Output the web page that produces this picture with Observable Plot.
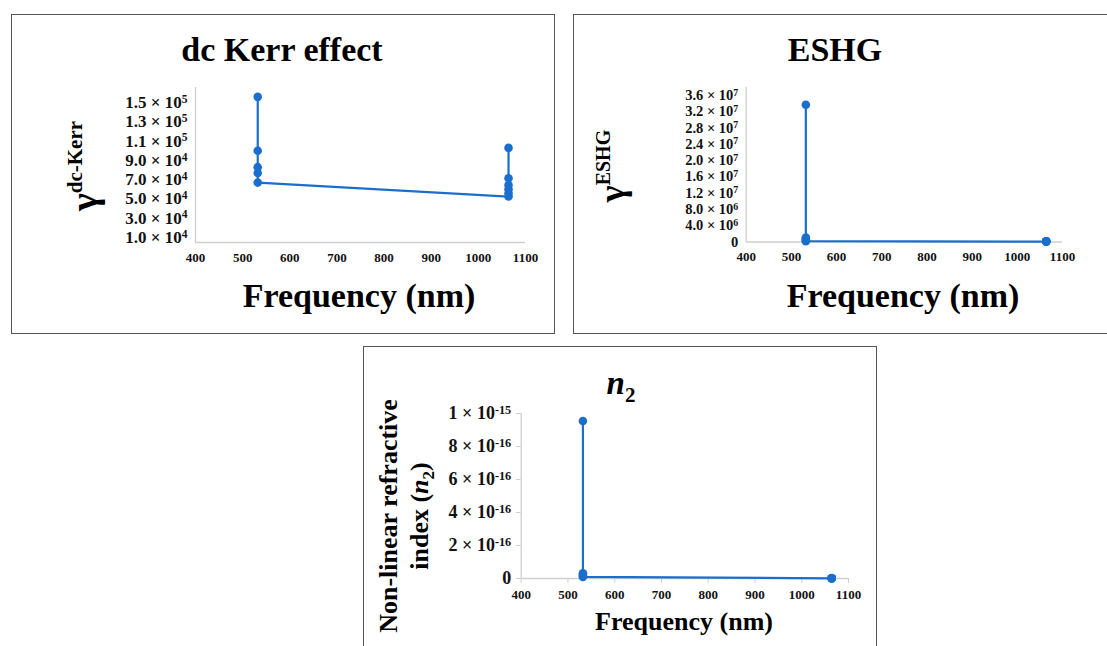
<!DOCTYPE html>
<html>
<head>
<meta charset="utf-8">
<script src="https://cdn.jsdelivr.net/npm/d3@7"></script>
<script src="https://cdn.jsdelivr.net/npm/@observablehq/plot@0.6"></script>
<style>
  html, body { margin: 0; padding: 0; background: #fff; }
  #root { position: relative; width: 1107px; height: 646px; overflow: hidden; font-family: "Liberation Serif", "DejaVu Serif", serif; color: #000; }
  .panel { position: absolute; border: 1.5px solid #555; box-sizing: border-box; }
  .abs { position: absolute; white-space: nowrap; font-weight: bold; transform: translate(-50%, -50%); line-height: 1; }
  .rot { transform: translate(-50%, -50%) rotate(-90deg); }
  .plot { position: absolute; }
</style>
</head>
<body>
<div id="root"></div>
<script>
// ---------- data ----------
const xTicks = [400, 500, 600, 700, 800, 900, 1000, 1100];

const kerrX = [532, 532, 532, 532, 532, 1064, 1064, 1064, 1064, 1064, 1064];
const kerrY = [1.56e5, 1.0e5, 8.3e4, 7.7e4, 6.7e4, 5.25e4, 5.6e4, 6.0e4, 6.45e4, 7.15e4, 1.03e5];
const kerrTicks = [1e4, 3e4, 5e4, 7e4, 9e4, 1.1e5, 1.3e5, 1.5e5];
const kerrTickLabels = ["1.0 × 10^4", "3.0 × 10^4", "5.0 × 10^4", "7.0 × 10^4", "9.0 × 10^4", "1.1 × 10^5", "1.3 × 10^5", "1.5 × 10^5"];

const eshgX = [532, 532, 532, 532, 532, 1064, 1064, 1064, 1064, 1064, 1064];
const eshgY = [3.37e7, 1.1e6, 7.0e5, 4.0e5, 2.0e5, 1.0e5, 1.2e5, 1.4e5, 1.6e5, 1.8e5, 2.0e5];
const eshgTicks = [0, 4e6, 8e6, 1.2e7, 1.6e7, 2.0e7, 2.4e7, 2.8e7, 3.2e7, 3.6e7];
const eshgTickLabels = ["0", "4.0 × 10^6", "8.0 × 10^6", "1.2 × 10^7", "1.6 × 10^7", "2.0 × 10^7", "2.4 × 10^7", "2.8 × 10^7", "3.2 × 10^7", "3.6 × 10^7"];

const n2X = [532, 532, 532, 532, 532, 1064, 1064, 1064, 1064, 1064, 1064];
const n2Y = [9.55e-16, 3.2e-17, 2.2e-17, 1.5e-17, 1.0e-17, 1.0e-18, 1.2e-18, 1.4e-18, 1.6e-18, 1.8e-18, 2.0e-18];
const n2Ticks = [0, 2e-16, 4e-16, 6e-16, 8e-16, 1e-15];
const n2TickLabels = ["0", "2 × 10^-16", "4 × 10^-16", "6 × 10^-16", "8 × 10^-16", "1 × 10^-15"];

// ---------- helpers ----------
const BLUE = "#1b6fcc";
const AXIS = "#cfcfcf";
const root = document.getElementById("root");
const NS = "http://www.w3.org/2000/svg";

function panel(l, t, w, h) {
  const d = document.createElement("div");
  d.className = "panel";
  Object.assign(d.style, {left: l + "px", top: t + "px", width: w + "px", height: h + "px"});
  root.appendChild(d);
}
function label(html, cx, cy, size, rotate, extra) {
  const d = document.createElement("div");
  d.className = "abs" + (rotate ? " rot" : "");
  d.innerHTML = html;
  Object.assign(d.style, {left: cx + "px", top: cy + "px", fontSize: size + "px"}, extra || {});
  root.appendChild(d);
}
function supify(svg) {
  svg.querySelectorAll("text").forEach(t => {
    const s = t.textContent;
    if (s.includes("^")) {
      const [a, b] = s.split("^");
      t.textContent = "";
      const t1 = document.createElementNS(NS, "tspan");
      t1.textContent = a;
      const t2 = document.createElementNS(NS, "tspan");
      t2.textContent = b;
      t2.setAttribute("dy", "-0.45em");
      t2.setAttribute("font-size", "68%");
      t.appendChild(t1); t.appendChild(t2);
    }
  });
}
function chart({xs, ys, yTicks, yLabels, yDomain, left, top, width, height, mL, mR, mT, mB, yFont, xFont, ticks}) {
  const data = xs.map((x, i) => ({x, y: ys[i]}));
  const fmt = d => yLabels[yTicks.indexOf(d)];
  const svg = Plot.plot({
    width, height,
    marginLeft: mL, marginRight: mR, marginTop: mT, marginBottom: mB,
    style: {fontFamily: "'Liberation Serif', serif", fontWeight: "bold", background: "transparent", color: "#111", overflow: "visible"},
    x: {domain: [400, 1100]},
    y: {domain: yDomain},
    marks: [
      Plot.ruleY([yDomain[0]], {stroke: AXIS, strokeWidth: 1.3}),
      Plot.ruleX([400], {stroke: AXIS, strokeWidth: 1.3}),
      Plot.axisX({ticks: xTicks, tickFormat: d => String(d), tickSize: ticks ? 5 : 0, stroke: AXIS, tickPadding: ticks ? 6 : 10, fontSize: xFont, fontWeight: "bold", fill: "#111", label: null}),
      Plot.axisY({ticks: yTicks, tickFormat: fmt, tickSize: ticks ? 5 : 0, stroke: AXIS, tickPadding: ticks ? 5 : 8, fontSize: yFont, fontWeight: "bold", fill: "#111", label: null}),
      Plot.line(data, {x: "x", y: "y", stroke: BLUE, strokeWidth: 2.2}),
      Plot.dot(data, {x: "x", y: "y", r: 4.3, fill: BLUE, stroke: "none"})
    ]
  });
  supify(svg);
  svg.classList.add("plot");
  svg.style.position = "absolute";
  svg.style.left = left + "px";
  svg.style.top = top + "px";
  root.appendChild(svg);
}

// ---------- panels ----------
panel(11, 14, 544, 320);
panel(573, 14, 560, 320);
panel(363, 346, 514, 320);

// dc Kerr
chart({xs: kerrX, ys: kerrY, yTicks: kerrTicks, yLabels: kerrTickLabels, yDomain: [4.8e3, 1.657e5],
  left: 100, top: 70, width: 450, height: 210, mL: 95, mR: 25, mT: 17, mB: 38, yFont: 17, xFont: 13, ticks: false});
label("dc Kerr effect", 282, 50, 34, false);
label("γ<span style='font-size:21px;position:relative;top:-15px'>dc-Kerr</span>", 84, 166, 38, true);
label("Frequency (nm)", 359, 296, 34, false);

// ESHG
chart({xs: eshgX, ys: eshgY, yTicks: eshgTicks, yLabels: eshgTickLabels, yDomain: [0, 3.8e7],
  left: 660, top: 70, width: 440, height: 210, mL: 85.7, mR: 38, mT: 16.7, mB: 38.5, yFont: 14.5, xFont: 13, ticks: false});
label("ESHG", 835, 50, 34, false);
label("γ<span style='font-size:20px;position:relative;top:-14px'>ESHG</span>", 612, 166, 36, true);
label("Frequency (nm)", 903, 296, 34, false);

// n2
chart({xs: n2X, ys: n2Y, yTicks: n2Ticks, yLabels: n2TickLabels, yDomain: [0, 1e-15],
  left: 430, top: 400, width: 440, height: 210, mL: 90.7, mR: 22, mT: 13, mB: 32, yFont: 18, xFont: 13, ticks: true});
label("<i>n</i><span style='font-size:21px;position:relative;top:8px'>2</span>", 621, 383, 33, false);
label("Non-linear refractive<br>index (<i>n</i><span style='font-size:17px;position:relative;top:6px'>2</span>)", 405, 516, 26, true, {textAlign: "center", lineHeight: "31px"});
label("Frequency (nm)", 684, 622, 26, false);
</script>
</body>
</html>
